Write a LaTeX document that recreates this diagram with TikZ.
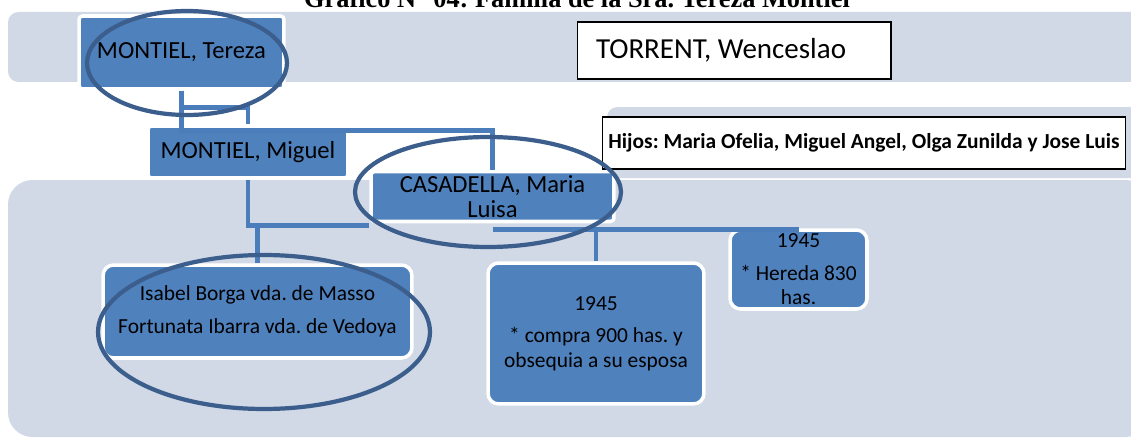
\documentclass[tikz,border=0pt]{standalone}
\usepackage{fontspec}
\setmainfont{Carlito}
\newfontfamily\captionFont{Liberation Serif}
\usepackage{xcolor}
\definecolor{famBand}{HTML}{D1D8E6}
\definecolor{famBox}{HTML}{4F81BD}
\definecolor{famLine}{HTML}{4A7DBA}
\definecolor{famRing}{HTML}{3B5E8D}
\frenchspacing

\begin{document}
\begin{tikzpicture}[x=0.02cm, y=-0.02cm,
  nameBox/.style={rectangle, fill=famBox, draw=white, line width=2pt, rounded corners=2pt, align=center, inner sep=0pt, font=\fontsize{14}{14.5}\selectfont},
  leafBox/.style={nameBox, rounded corners=6pt, font=\fontsize{12.2}{14}\selectfont},
  noteBox/.style={rectangle, fill=white, draw=black, line width=0.6pt, inner ysep=0pt},
  link/.style={famLine, line width=2.6pt},
  ring/.style={famRing, line width=2.4pt}]
  \useasboundingbox (0,0) rectangle (1131,439);
  \fill[white] (0,0) rectangle (1131,439);
  \fill[famBand, rounded corners=6pt] (8,12) rectangle (1150,82);
  \fill[famBand, rounded corners=6pt] (607,107) rectangle (1150,178);
  \fill[famBand, rounded corners=14pt] (8,180) rectangle (1150,437);
  \node[anchor=base, font=\captionFont\bfseries\fontsize{15}{17}\selectfont] (title) at (577,8) {Gráfico N° 04: Familia de la Sra. Tereza Montiel};
  \node[nameBox, minimum width=4.1cm, minimum height=1.46cm] (tereza) at (181.5,52.5) {MONTIEL, Tereza};
  \node[nameBox, minimum width=4.0cm, minimum height=1.04cm] (miguel) at (248,152) {MONTIEL, Miguel};
  \node[nameBox, minimum width=4.86cm, minimum height=1.0cm] (casa) at (492.5,196.5) {CASADELLA, Maria\\Luisa};
  \node[noteBox, minimum width=6.28cm, minimum height=1.14cm, font=\fontsize{16.5}{18}\selectfont] (torrent) at (734,50.5) {TORRENT, Wenceslao\hspace*{0.52cm}};
  \node[noteBox, minimum width=10.44cm, minimum height=1.04cm, font=\bfseries\fontsize{12.2}{14}\selectfont] (hijos) at (864,143) {Hijos: Maria Ofelia, Miguel Angel, Olga Zunilda y Jose Luis};
  \node[leafBox, minimum width=6.18cm, minimum height=1.86cm] (isabel) at (257.5,311.5) {Isabel Borga vda. de Masso\\[5pt]Fortunata Ibarra vda. de Vedoya};
  \node[leafBox, minimum width=4.32cm, minimum height=2.82cm] (compra) at (596,333.5) {1945\\[4.5pt]* compra 900 has. y\\obsequia a su esposa};
  \node[leafBox, minimum width=2.74cm, minimum height=1.58cm] (hereda) at (798.5,269.5) {1945\\[4.5pt]* Hereda 830\\has.};
  \draw[link] (tereza.south) -- ++(0,40) -| (casa.north);
  \draw[link] (tereza.south) ++(0,17) -| (miguel.north);
  \draw[link] (miguel.south) -- ++(0,46) coordinate (mFork) -- (mFork -| casa.west);
  \draw[link] (mFork -| isabel.north) -- (isabel.north);
  \draw[link] (casa.south) ++(0,6) coordinate (cFork) -- (cFork -| hereda.north);
  \draw[link] (cFork -| compra.north) -- (compra.north);
  \draw[ring] (187,63) ellipse [x radius=2.0cm, y radius=1.04cm];
  \draw[ring] (488,192) ellipse [x radius=2.66cm, y radius=1.1cm];
  \draw[ring] (264,332) ellipse [x radius=3.32cm, y radius=1.54cm];
\end{tikzpicture}
\end{document}
